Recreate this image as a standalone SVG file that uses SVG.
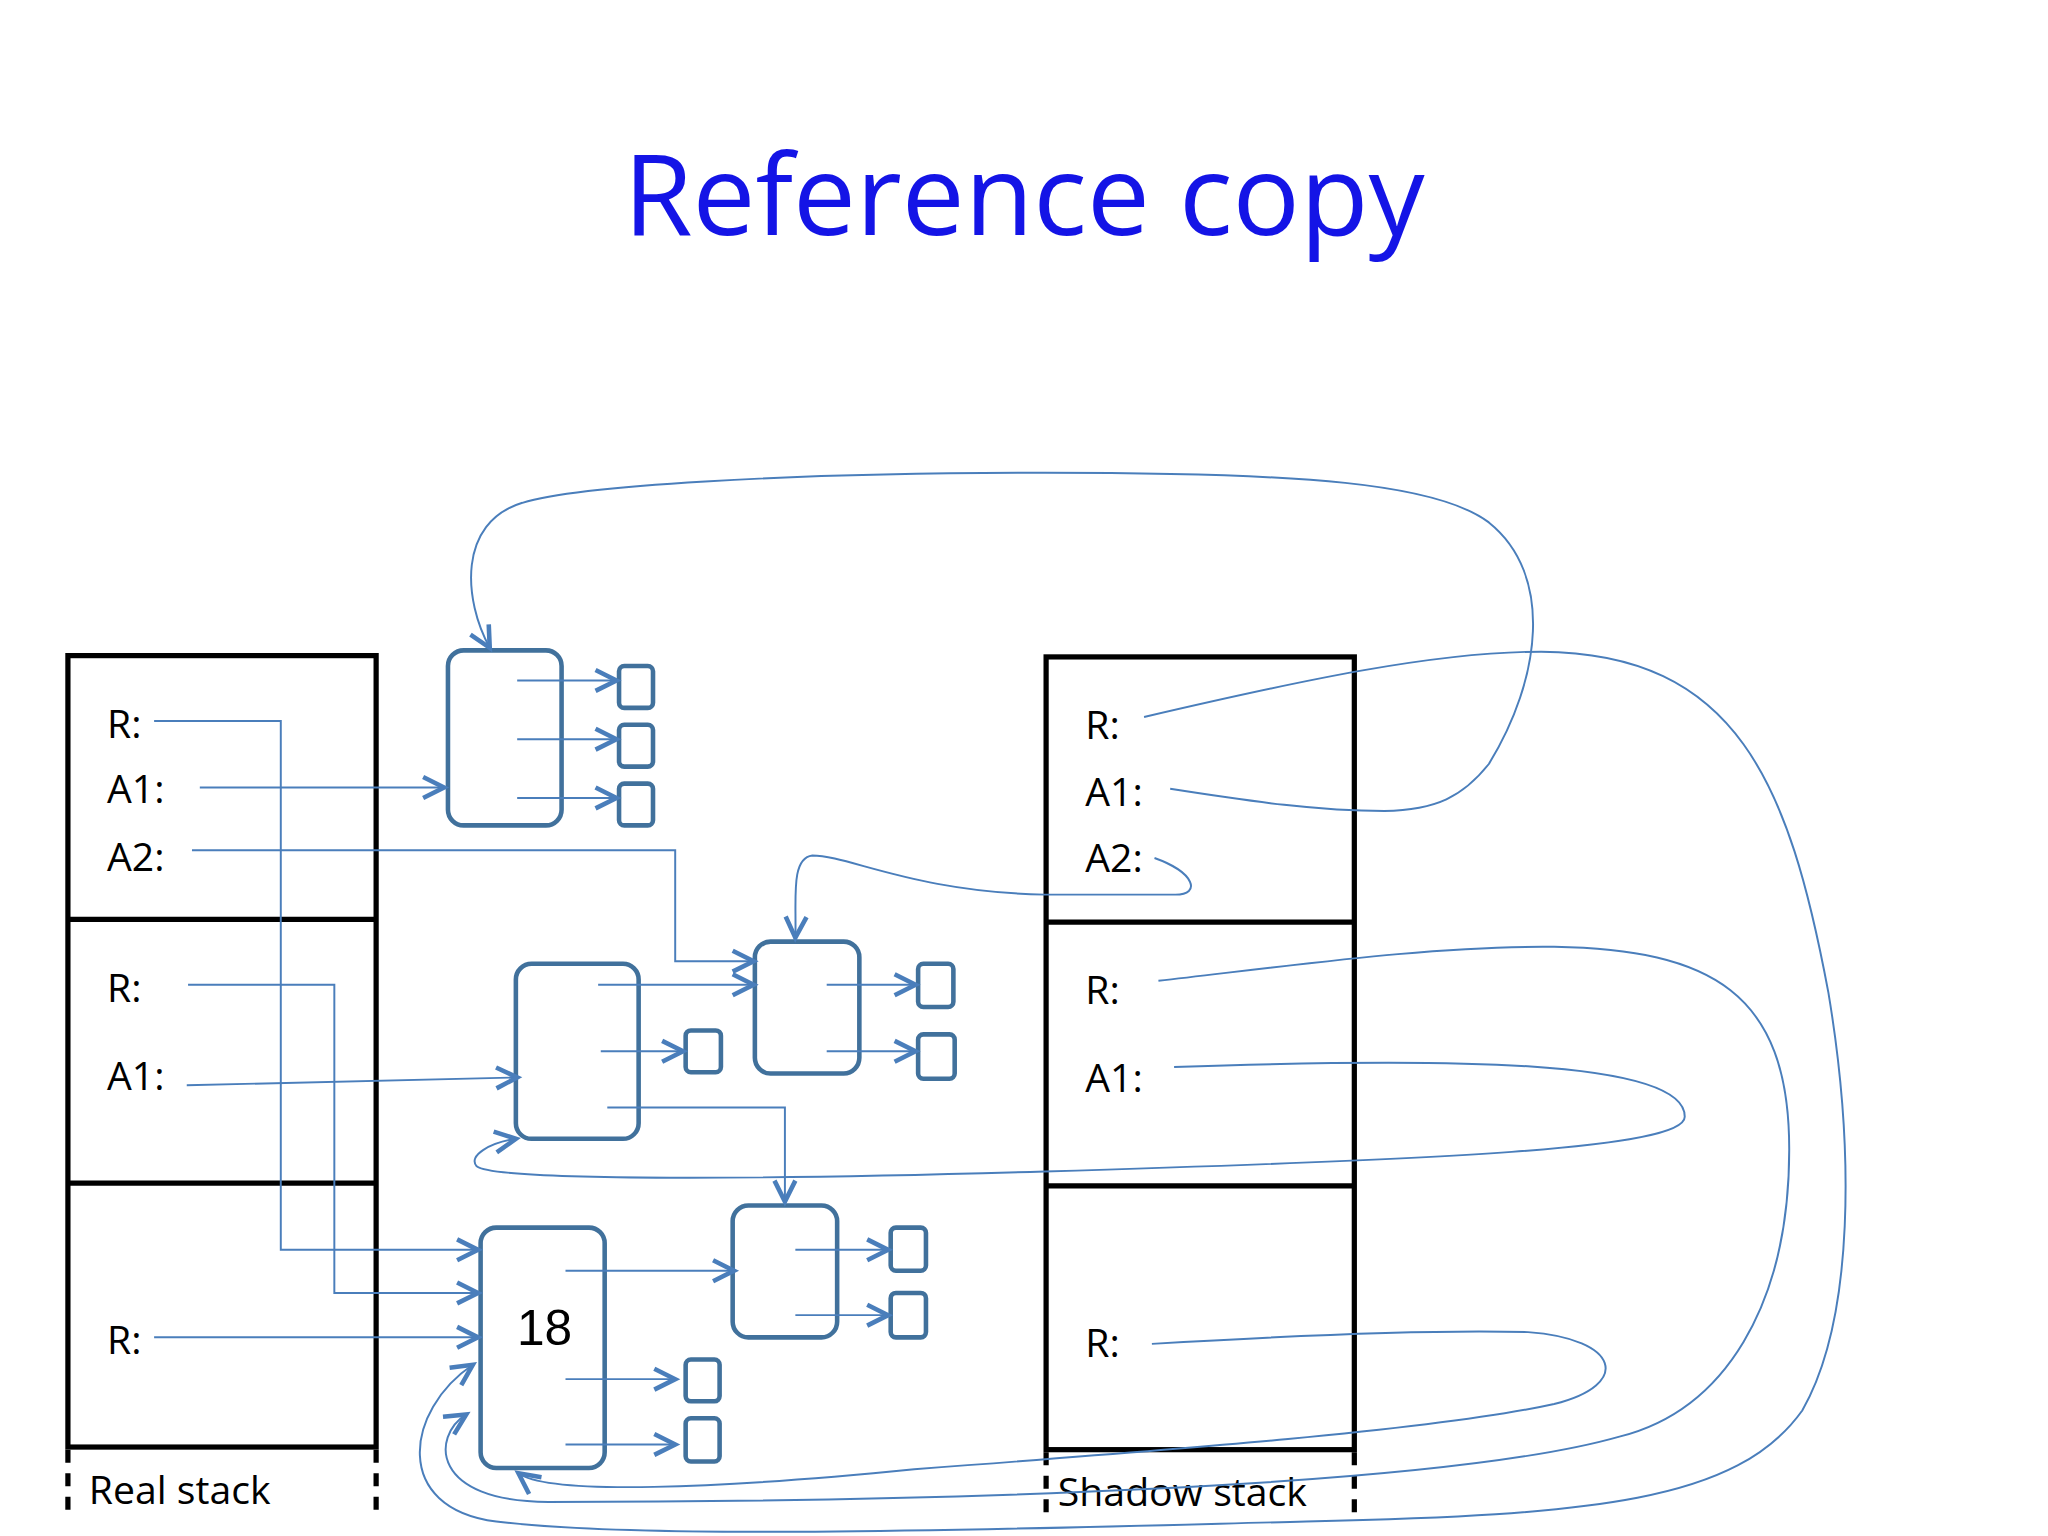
<svg xmlns="http://www.w3.org/2000/svg" width="2048" height="1536" viewBox="0 0 2048 1536">
<style>
.lbl{font-family:"Open Sans","Liberation Sans",sans-serif;font-size:30px;fill:#000}
.frame{fill:none;stroke:#000;stroke-width:4}
.dash{stroke:#000;stroke-width:4;stroke-dasharray:10,8}
.box{fill:none;stroke:#41719c;stroke-width:3.5}
.c{fill:none;stroke:#4a7ebb;stroke-width:1.5}
.ca{fill:none;stroke:#4a7ebb;stroke-width:1.5;marker-end:url(#ah)}
</style>
<defs>
<marker id="ah" markerUnits="userSpaceOnUse" markerWidth="24" markerHeight="24" refX="19" refY="10" viewBox="0 0 24 20" orient="auto">
<path d="M3,2 L19,10 L3,18" fill="none" stroke="#4a7ebb" stroke-width="3.5"/>
</marker>
</defs>
<rect width="2048" height="1536" fill="#fff"/>
<text x="1024" y="235" text-anchor="middle" font-family="Open Sans, Liberation Sans, sans-serif" font-size="112" fill="#1414e6">Reference copy</text>
<g transform="scale(1.306)">
<g id="real-stack">
<rect class="frame" x="52" y="502" width="236" height="606"/>
<line class="frame" x1="52" y1="704" x2="288" y2="704"/>
<line class="frame" x1="52" y1="906" x2="288" y2="906"/>
<line class="dash" x1="52" y1="1110" x2="52" y2="1160"/>
<line class="dash" x1="288" y1="1110" x2="288" y2="1160"/>
<text class="lbl" x="82" y="565">R:</text>
<text class="lbl" x="82" y="615">A1:</text>
<text class="lbl" x="82" y="667">A2:</text>
<text class="lbl" x="82" y="767">R:</text>
<text class="lbl" x="82" y="835">A1:</text>
<text class="lbl" x="82" y="1037">R:</text>
<text class="lbl" x="68" y="1152">Real stack</text>
</g>
<g id="shadow-stack">
<rect class="frame" x="801" y="503" width="236" height="607"/>
<line class="frame" x1="801" y1="706" x2="1037" y2="706"/>
<line class="frame" x1="801" y1="908" x2="1037" y2="908"/>
<line class="dash" x1="801" y1="1112" x2="801" y2="1160"/>
<line class="dash" x1="1037" y1="1112" x2="1037" y2="1160"/>
<text class="lbl" x="831" y="566">R:</text>
<text class="lbl" x="831" y="617">A1:</text>
<text class="lbl" x="831" y="668">A2:</text>
<text class="lbl" x="831" y="769">R:</text>
<text class="lbl" x="831" y="836">A1:</text>
<text class="lbl" x="831" y="1039">R:</text>
<text class="lbl" x="810" y="1153">Shadow stack</text>
</g>
<g id="obj1">
<rect class="box" x="343" y="498" width="87" height="134" rx="12"/>
<rect class="box" x="474" y="510" width="26" height="32" rx="4"/>
<rect class="box" x="474" y="555" width="26" height="32" rx="4"/>
<rect class="box" x="474" y="600" width="26" height="32" rx="4"/>
</g>
<g id="obj2">
<rect class="box" x="395" y="738" width="94" height="134" rx="12"/>
<rect class="box" x="525" y="789" width="27" height="32" rx="4"/>
</g>
<g id="obj3">
<rect class="box" x="578" y="721" width="80" height="101" rx="12"/>
<rect class="box" x="703" y="738" width="27" height="33" rx="4"/>
<rect class="box" x="703" y="792" width="28" height="34" rx="4"/>
</g>
<g id="obj5">
<rect class="box" x="561" y="923" width="80" height="101" rx="12"/>
<rect class="box" x="682" y="940" width="27" height="33" rx="4"/>
<rect class="box" x="682" y="990" width="27" height="34" rx="4"/>
</g>
<g id="obj4">
<rect class="box" x="368" y="940" width="95" height="184" rx="12"/>
<text x="417" y="1030" text-anchor="middle" font-family="Liberation Sans, Arial, sans-serif" font-size="38">18</text>
<rect class="box" x="525" y="1041" width="26" height="32" rx="4"/>
<rect class="box" x="525" y="1086" width="26" height="33" rx="4"/>
</g>
<g id="connectors">
<line class="ca" x1="396" y1="521" x2="472" y2="521"/>
<line class="ca" x1="396" y1="566" x2="472" y2="566"/>
<line class="ca" x1="396" y1="611" x2="472" y2="611"/>
<line class="ca" x1="460" y1="805" x2="523" y2="805"/>
<line class="ca" x1="458" y1="754" x2="577" y2="754"/>
<polyline class="ca" points="465,848 601,848 601,920"/>
<line class="ca" x1="633" y1="754" x2="701" y2="754"/>
<line class="ca" x1="633" y1="805" x2="701" y2="805"/>
<line class="ca" x1="609" y1="957" x2="680" y2="957"/>
<line class="ca" x1="609" y1="1007" x2="680" y2="1007"/>
<line class="ca" x1="433" y1="1056" x2="517" y2="1056"/>
<line class="ca" x1="433" y1="1106" x2="517" y2="1106"/>
<line class="ca" x1="433" y1="973" x2="562" y2="973"/>
<polyline class="ca" points="118,552 215,552 215,957 366,957"/>
<line class="ca" x1="153" y1="603" x2="340" y2="603"/>
<polyline class="ca" points="147,651 517,651 517,736 577,736"/>
<polyline class="ca" points="144,754 256,754 256,990 366,990"/>
<line class="ca" x1="143" y1="831" x2="396" y2="825"/>
<line class="ca" x1="118" y1="1024" x2="366" y2="1024"/>
<path class="ca" d="M876,549 C1000,520 1100,499 1180,499 C1330,500 1370,600 1400,760 C1420,880 1420,1010 1380,1080 C1330,1150 1220,1160 1000,1165 C800,1170 500,1180 380,1165 C300,1155 310,1080 362,1045"/>
<path class="ca" d="M887,751 C1000,738 1100,724 1190,725 C1310,727 1370,760 1370,880 C1370,1000 1320,1080 1240,1100 C1100,1140 700,1150 420,1150 C330,1150 330,1100 357,1083"/>
<path class="ca" d="M882,1029 C1000,1022 1100,1018 1170,1020 C1240,1025 1250,1060 1190,1075 C1100,1095 900,1110 700,1125 C550,1140 420,1145 397,1128"/>
<path class="ca" d="M896,604 C960,614 1010,621 1060,621 C1100,620 1120,610 1140,585 C1180,520 1190,440 1140,400 C1100,370 1000,362 800,362 C600,362 440,372 400,385 C350,400 355,460 375,496"/>
<path class="ca" d="M884,657 C915,668 920,685 900,685 L800,685 C700,683 650,655 622,655 C605,657 610,690 609,718"/>
<path class="ca" d="M899,817 C1100,810 1290,810 1290,855 C1290,880 1100,888 800,897 C600,903 380,905 365,893 C358,885 375,875 395,872"/>
</g>
</g>
</svg>
